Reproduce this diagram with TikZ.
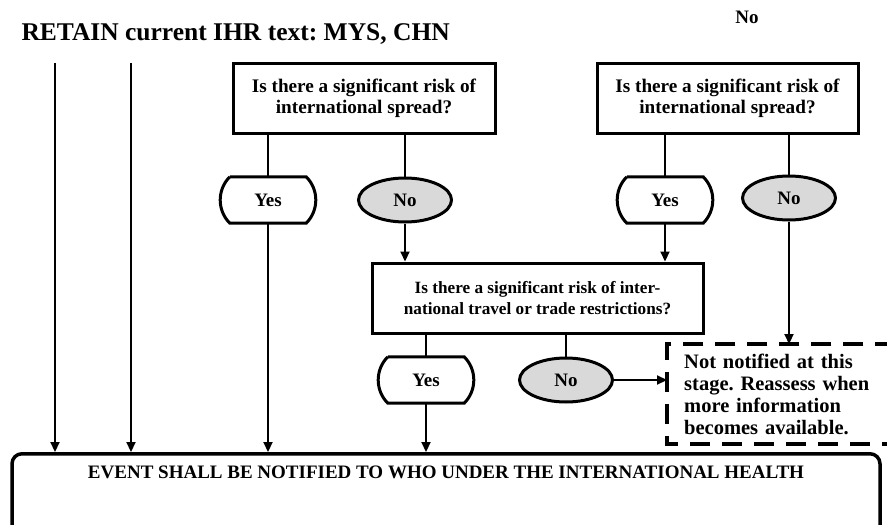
\documentclass[tikz,border=0pt]{standalone}
\usepackage{fontspec}
\setmainfont{Liberation Serif}
\usetikzlibrary{shapes.geometric,arrows.meta}
\frenchspacing
\NewDocumentCommand{\yesnode}{m m m}{
    \def\nodename{#1}
    \def\posX{#2}
    \def\posY{#3}
    
    \node[yestext] (\nodename) at (\posX,\posY) {Yes};
    % bulging sides, straight top and bottom
    \draw[shapeline] (\nodename.north west) -- (\nodename.north east)
        to[bend left=45] (\nodename.south east) -- (\nodename.south west)
        to[bend left=45] (\nodename.north west);
}

\begin{document}
\begin{tikzpicture}[x=1pt, y=-1pt,
    qbox/.style={draw, line width=3pt, minimum height=70pt, align=center, inner sep=0pt,
        font=\fontsize{19.2}{21}\selectfont\bfseries},
    yestext/.style={minimum width=76pt, minimum height=46pt, inner sep=0pt,
        font=\fontsize{19}{21}\selectfont\bfseries},
    shapeline/.style={line width=3pt},
    nobox/.style={ellipse, draw, line width=3pt, fill=gray!30, minimum width=93pt,
        minimum height=44pt, inner sep=0pt, font=\fontsize{19}{21}\selectfont\bfseries},
    dashtext/.style={align=left, text width=226pt, inner xsep=17pt, minimum height=100pt,
        font=\fontsize{20.5}{22}\selectfont\bfseries},
    dashline/.style={line width=4pt, dash pattern=on 20pt off 12pt},
    eventbox/.style={draw, line width=3.5pt, rounded corners=10pt, minimum width=868pt,
        text depth=75pt, inner ysep=12pt, font=\fontsize{19}{21}\selectfont\bfseries},
    conn/.style={line width=2.2pt},
    arr/.style={line width=2.2pt, -{Triangle[length=10pt,width=9pt]}},
]
        \useasboundingbox (0,0) rectangle (887,525);

        \node[anchor=base west, font=\fontsize{25.5}{28}\selectfont\bfseries] (title) at (18,40) {RETAIN current IHR text: MYS, CHN};
        \node[anchor=base, font=\fontsize{19}{21}\selectfont\bfseries] (topno) at (747,23) {No};

        \node[eventbox, anchor=north] (event) at (446,452) {EVENT SHALL BE NOTIFIED TO WHO UNDER THE INTERNATIONAL HEALTH};

        \coordinate (left1) at (55,63);
        \coordinate (left2) at (131,63);
        \draw[arr] (left1) -- (left1 |- event.north);
        \draw[arr] (left2) -- (left2 |- event.north);

        \def\y{98}
        \node[qbox, minimum width=262pt] (spreadA) at (364,\y) {Is there a significant risk of\\international spread?};
        \node[qbox, minimum width=261pt] (spreadB) at (727.5,\y) {Is there a significant risk of\\international spread?};

        \def\y{200}
        \yesnode{yesA}{268}{\y}
        \node[nobox] (noA) at (405,\y) {No};
        \yesnode{yesB}{665}{\y}
        \node[nobox] (noB) at (789,\y-2) {No};
        \draw[conn] (yesA.north |- spreadA.south) -- (yesA.north);
        \draw[conn] (noA.north |- spreadA.south) -- (noA.north);
        \draw[conn] (yesB.north |- spreadB.south) -- (yesB.north);
        \draw[conn] (noB.north |- spreadB.south) -- (noB.north);

        \node[qbox, minimum width=331pt, font=\fontsize{17.2}{21}\selectfont\bfseries] (trade) at (537.5,298) {Is there a significant risk of inter-\\national travel or trade restrictions?};
        \draw[arr] (noA.south) -- (noA.south |- trade.north);
        \draw[arr] (yesB.south) -- (yesB.south |- trade.north);

        % open on the right, runs off the page
        \node[dashtext, anchor=north west] (later) at (667,344) {Not notified at this\\stage. Reassess when\\more information\\becomes available.};
        \draw[dashline] (later.north east) -- (later.north west) -- (later.south west) -- (later.south east);
        \draw[arr] (noB.south) -- (noB.south |- later.north);

        \def\y{380}
        \yesnode{yesC}{426}{\y}
        \node[nobox] (noC) at (566,\y) {No};
        \draw[conn] (yesC.north |- trade.south) -- (yesC.north);
        \draw[conn] (noC.north |- trade.south) -- (noC.north);
        \draw[arr] (noC.east) -- (noC.east -| later.west);

        \draw[arr] (yesA.south) -- (yesA.south |- event.north);
        \draw[arr] (yesC.south) -- (yesC.south |- event.north);
\end{tikzpicture}
\end{document}
